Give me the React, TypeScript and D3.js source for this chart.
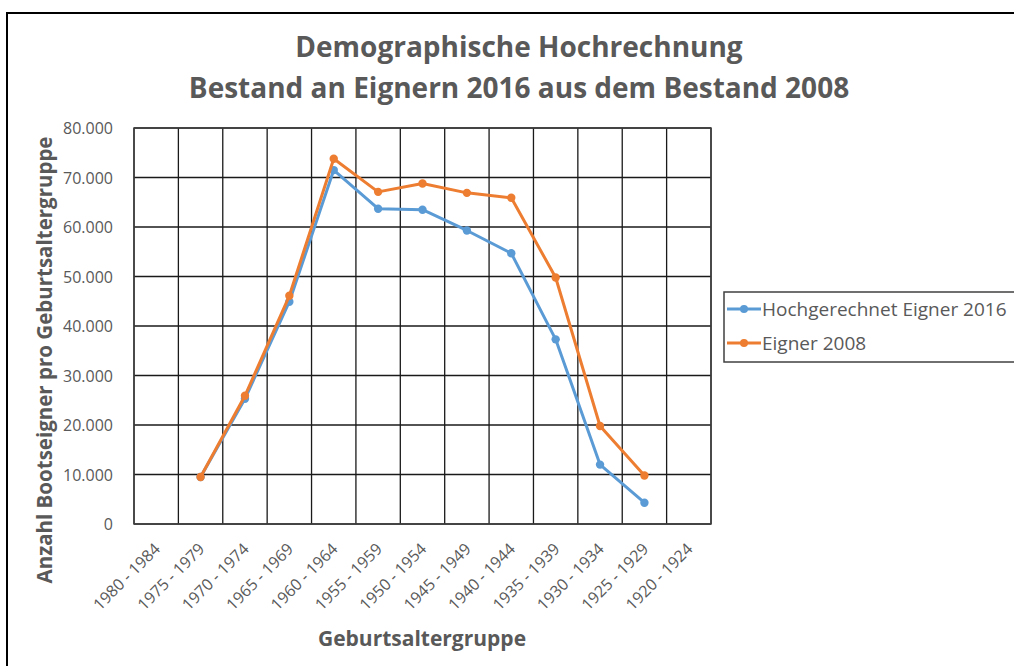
import React from "react";
import * as d3 from "d3";

const categories = [
  "1980 - 1984", "1975 - 1979", "1970 - 1974", "1965 - 1969", "1960 - 1964",
  "1955 - 1959", "1950 - 1954", "1945 - 1949", "1940 - 1944", "1935 - 1939",
  "1930 - 1934", "1925 - 1929", "1920 - 1924",
];
const hochgerechnet2016: (number | null)[] = [
  null, 9500, 25300, 44900, 71500, 63700, 63500, 59300, 54700, 37300, 12000, 4300, null,
];
const eigner2008: (number | null)[] = [
  null, 9500, 25900, 46100, 73800, 67100, 68800, 66900, 65900, 49800, 19800, 9800, null,
];
const yTicks = [0, 10000, 20000, 30000, 40000, 50000, 60000, 70000, 80000];
const seriesNames = ["Hochgerechnet Eigner 2016", "Eigner 2008"];
const seriesColors = ["#5B9BD5", "#ED7D31"];

const FONT = "'Open Sans', sans-serif";
const GRAY = "#595959";

export default function App() {
  const W = 1014, H = 666;
  const left = 134, right = 711, top = 128, bottom = 524;
  const x = d3.scaleBand<string>().domain(categories).range([left, right]).paddingInner(0).paddingOuter(0);
  const y = d3.scaleLinear().domain([0, 80000]).range([bottom, top]);
  const cx = (c: string) => (x(c) as number) + x.bandwidth() / 2;
  const fmt = (v: number) => (v === 0 ? "0" : d3.format(",")(v).replace(/,/g, "."));
  const line = d3
    .line<number | null>()
    .defined((d) => d !== null)
    .x((_, i) => cx(categories[i]))
    .y((d) => y(d as number));
  const series = [hochgerechnet2016, eigner2008];
  const boundaries = d3.range(categories.length + 1).map((i) => left + i * x.bandwidth());

  return (
    <svg width={W} height={H} style={{ position: "absolute", left: 0, top: 0 }} fontFamily={FONT}>
      <rect x={0} y={0} width={W} height={H} fill="#fff" />
      <rect x={7} y={13} width={W + 20} height={H + 20} fill="#fff" stroke="#000" strokeWidth={2} />
      <text x={519} y={57} textAnchor="middle" fontSize={28} fontWeight="bold" fill={GRAY}>
        Demographische Hochrechnung
      </text>
      <text x={519} y={98} textAnchor="middle" fontSize={28} fontWeight="bold" fill={GRAY}>
        Bestand an Eignern 2016 aus dem Bestand 2008
      </text>
      {/* grid */}
      {yTicks.map((t) => (
        <line key={"h" + t} x1={left} x2={right} y1={y(t)} y2={y(t)} stroke="#1a1a1a" strokeWidth={1.3} />
      ))}
      {boundaries.map((b, i) => (
        <line key={"v" + i} x1={b} x2={b} y1={top} y2={bottom} stroke="#1a1a1a" strokeWidth={1.3} />
      ))}
      <rect x={left} y={top} width={right - left} height={bottom - top} fill="none" stroke="#404040" strokeWidth={1.5} />
      {/* y ticks */}
      {yTicks.map((t) => (
        <text key={"yl" + t} x={113} y={y(t) + 6} textAnchor="end" fontSize={16} fill={GRAY}>
          {fmt(t)}
        </text>
      ))}
      {/* x ticks */}
      {categories.map((c) => (
        <text
          key={"xl" + c}
          transform={`translate(${cx(c) + 5},${bottom + 26}) rotate(-45)`}
          textAnchor="end"
          fontSize={16}
          fill={GRAY}
        >
          {c}
        </text>
      ))}
      <text x={422} y={646} textAnchor="middle" fontSize={21} fontWeight="bold" fill={GRAY}>
        Geburtsaltergruppe
      </text>
      <text
        transform={`translate(52,360) rotate(-90)`}
        textAnchor="middle"
        fontSize={20.5}
        fontWeight="bold"
        fill={GRAY}
      >
        Anzahl Bootseigner pro Geburtsaltergruppe
      </text>
      {/* series */}
      {series.map((s, si) => (
        <g key={"s" + si}>
          <path d={line(s) || ""} fill="none" stroke={seriesColors[si]} strokeWidth={3} strokeLinejoin="round" />
          {s.map((v, i) =>
            v === null ? null : (
              <circle key={i} cx={cx(categories[i])} cy={y(v)} r={4.2} fill={seriesColors[si]} />
            )
          )}
        </g>
      ))}
      {/* legend */}
      <rect x={724} y={292} width={320} height={70} fill="#fff" stroke="#404040" strokeWidth={1.5} />
      {seriesNames.map((n, i) => (
        <g key={"lg" + i}>
          <line x1={727} x2={761} y1={309 + i * 34} y2={309 + i * 34} stroke={seriesColors[i]} strokeWidth={3} />
          <circle cx={744} cy={309 + i * 34} r={4} fill={seriesColors[i]} />
          <text x={762} y={316 + i * 34} fontSize={19} fill={GRAY}>
            {n}
          </text>
        </g>
      ))}
    </svg>
  );
}
